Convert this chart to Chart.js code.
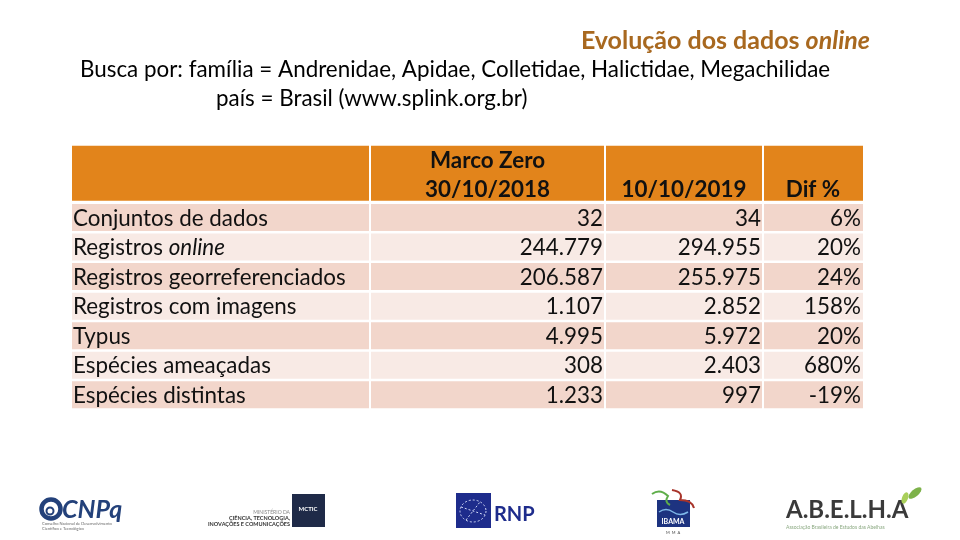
<!DOCTYPE html>
<html lang="pt-BR">
<head>
<meta charset="utf-8">
<title>Evolução dos dados online</title>
<script src="https://cdn.jsdelivr.net/npm/chart.js@4.4.1/dist/chart.umd.min.js"></script>
<style>
  html, body { margin: 0; padding: 0; background: #fff; }
  #wrap { width: 960px; height: 540px; }
</style>
</head>
<body>
<div id="wrap"><canvas id="tabela" width="960" height="540"></canvas></div>
<script>
// ---- DATA ----
const rowLabels = [
  'Conjuntos de dados',
  'Registros online',
  'Registros georreferenciados',
  'Registros com imagens',
  'Typus',
  'Espécies ameaçadas',
  'Espécies distintas'
];
const columnHeaders = [[], ['Marco Zero', '30/10/2018'], ['10/10/2019'], ['Dif %']];
const marcoZero   = [32, 244779, 206587, 1107, 4995, 308, 1233];
const outubro2019 = [34, 294955, 255975, 2852, 5972, 2403, 997];
const difPercent  = [6, 20, 24, 158, 20, 680, -19];
const italicWords = ['online'];

// ---- LAYOUT / STYLE ----
const FONT = "Lato, 'Open Sans', sans-serif";
const SIZE = 22.4;
const TITLE_SIZE = 25;
const COL_EDGES = [0, 298, 533, 691, 791];  // x units of the table
const HEADER_Y = 1;
const FIRST_ROW_Y = 2.5;
const COLORS = {
  header: '#E2841B',
  bandA: '#F2D6CB',
  bandB: '#F8EAE5',
  title: '#A8681F',
  text: '#111111'
};

const fmt = n => String(n).replace(/\B(?=(\d{3})+(?!\d))/g, '.');

function cellRange(c) {
  const lo = COL_EDGES[c] + (c > 0 ? 1 : 0);
  const hi = COL_EDGES[c + 1] - (c < COL_EDGES.length - 2 ? 1 : 0);
  return [lo, hi];
}

// one header cell + one column of body cells per table column
const datasets = [];
for (let c = 0; c < COL_EDGES.length - 1; c++) {
  datasets.push({
    label: 'header ' + c,
    data: [{ y: HEADER_Y, x: cellRange(c) }],
    backgroundColor: COLORS.header,
    grouped: false,
    categoryPercentage: 1,
    barPercentage: 1.86,
    borderWidth: 0
  });
  datasets.push({
    label: 'col ' + c,
    data: rowLabels.map((_, i) => ({ y: FIRST_ROW_Y + i, x: cellRange(c) })),
    backgroundColor: rowLabels.map((_, i) => i % 2 ? COLORS.bandB : COLORS.bandA),
    grouped: false,
    categoryPercentage: 1,
    barPercentage: 0.914,
    borderWidth: 0
  });
}

// draw a label, switching to italic for the words in italicWords
function drawRich(ctx, text, x, y, weight) {
  const words = text.split(' ');
  let cx = x;
  words.forEach((w, k) => {
    const it = italicWords.includes(w);
    ctx.font = `${it ? 'italic ' : ''}${weight} ${SIZE}px ${FONT}`;
    const piece = k < words.length - 1 ? w + ' ' : w;
    ctx.fillText(piece, cx, y);
    cx += ctx.measureText(piece).width;
  });
}

// ---- TABLE TEXT ----
const tableText = {
  id: 'tableText',
  afterDatasetsDraw(chart) {
    const { ctx, scales: { x, y } } = chart;
    ctx.save();
    ctx.fillStyle = COLORS.text;
    ctx.textBaseline = 'middle';

    // header, bottom aligned
    ctx.font = `bold ${SIZE}px ${FONT}`;
    ctx.textAlign = 'center';
    const bottomLine = y.getPixelForValue(HEADER_Y) + 16.5;
    columnHeaders.forEach((lines, c) => {
      const cx = (x.getPixelForValue(COL_EDGES[c]) + x.getPixelForValue(COL_EDGES[c + 1])) / 2;
      lines.forEach((t, k) => {
        ctx.fillText(t, cx, bottomLine - (lines.length - 1 - k) * 29);
      });
    });

    // body rows
    rowLabels.forEach((label, i) => {
      const py = y.getPixelForValue(FIRST_ROW_Y + i) + 1;
      ctx.textAlign = 'left';
      drawRich(ctx, label, x.getPixelForValue(COL_EDGES[0]) + 1, py, 'normal');
      ctx.font = `normal ${SIZE}px ${FONT}`;
      ctx.textAlign = 'right';
      const cells = [fmt(marcoZero[i]), fmt(outubro2019[i]), difPercent[i] + '%'];
      cells.forEach((t, k) => {
        ctx.fillText(t, x.getPixelForValue(COL_EDGES[k + 2]) - 2, py);
      });
    });
    ctx.restore();
  }
};

// ---- TITLE, SUBTITLE AND LOGOS ----
const slideDecor = {
  id: 'slideDecor',
  afterDraw(chart) {
    const ctx = chart.ctx;
    ctx.save();
    ctx.textBaseline = 'middle';

    // title, right aligned, "online" in italic
    ctx.fillStyle = COLORS.title;
    ctx.textAlign = 'left';
    ctx.font = `italic bold ${TITLE_SIZE}px ${FONT}`;
    const wOnline = ctx.measureText('online').width;
    ctx.font = `bold ${TITLE_SIZE}px ${FONT}`;
    const head = 'Evolução dos dados ';
    const wHead = ctx.measureText(head).width;
    const tx = 870 - wOnline - wHead;
    ctx.fillText(head, tx, 41);
    ctx.font = `italic bold ${TITLE_SIZE}px ${FONT}`;
    ctx.fillText('online', tx + wHead, 41);

    ctx.fillStyle = '#000';
    ctx.font = `normal ${SIZE}px ${FONT}`;
    ctx.fillText('Busca por: família = Andrenidae, Apidae, Colletidae, Halictidae, Megachilidae', 80, 70);
    ctx.fillText('país = Brasil (www.splink.org.br)', 216, 99);

    // CNPq
    ctx.strokeStyle = '#23417a';
    ctx.lineWidth = 4.5;
    ctx.beginPath(); ctx.arc(51, 509, 9.5, 0, Math.PI * 2); ctx.stroke();
    ctx.lineWidth = 2;
    ctx.beginPath(); ctx.arc(50, 511, 3.5, 0, Math.PI * 2); ctx.stroke();
    ctx.fillStyle = '#23417a';
    ctx.font = `italic bold 25px ${FONT}`;
    ctx.fillText('CNPq', 62, 510);
    ctx.fillStyle = '#666';
    ctx.font = `4px ${FONT}`;
    ctx.fillText('Conselho Nacional de Desenvolvimento', 42, 524);
    ctx.fillText('Científico e Tecnológico', 42, 529);

    // MCTIC
    ctx.fillStyle = '#1f2a48';
    ctx.fillRect(292, 494, 33, 33);
    ctx.fillStyle = '#fff';
    ctx.textAlign = 'center';
    ctx.font = `bold 6px ${FONT}`;
    ctx.fillText('MCTIC', 308, 509);
    ctx.textAlign = 'right';
    ctx.fillStyle = '#888';
    ctx.font = `5px ${FONT}`;
    ctx.fillText('MINISTÉRIO DA', 290, 512);
    ctx.fillStyle = '#333';
    ctx.font = `bold 5.5px ${FONT}`;
    ctx.fillText('CIÊNCIA, TECNOLOGIA,', 290, 518);
    ctx.fillText('INOVAÇÕES E COMUNICAÇÕES', 290, 524);

    // RNP
    ctx.fillStyle = '#1e2c8c';
    ctx.fillRect(456, 493, 35, 35);
    ctx.strokeStyle = '#cfd6f5';
    ctx.lineWidth = 1;
    ctx.setLineDash([2, 2]);
    ctx.beginPath(); ctx.ellipse(473, 511, 13, 11, 0, 0, Math.PI * 2); ctx.stroke();
    ctx.beginPath(); ctx.moveTo(461, 507); ctx.lineTo(485, 515); ctx.moveTo(466, 520); ctx.lineTo(480, 502); ctx.stroke();
    ctx.setLineDash([]);
    ctx.fillStyle = '#1e2c8c';
    ctx.textAlign = 'left';
    ctx.font = `bold 20px 'Liberation Sans Narrow', ${FONT}`;
    ctx.fillText('RNP', 494, 515);

    // IBAMA
    ctx.fillStyle = '#1d3380';
    ctx.fillRect(657, 500, 33, 27);
    ctx.strokeStyle = '#7fb8e8';
    ctx.lineWidth = 1.5;
    ctx.beginPath();
    ctx.moveTo(659, 512); ctx.quadraticCurveTo(666, 507, 673, 512); ctx.quadraticCurveTo(680, 517, 688, 512);
    ctx.stroke();
    ctx.strokeStyle = '#5fae4a';
    ctx.lineWidth = 2;
    ctx.beginPath(); ctx.moveTo(652, 494); ctx.quadraticCurveTo(660, 488, 668, 496); ctx.quadraticCurveTo(664, 502, 670, 505); ctx.stroke();
    ctx.strokeStyle = '#a8342a';
    ctx.beginPath(); ctx.moveTo(672, 490); ctx.quadraticCurveTo(684, 492, 680, 500); ctx.quadraticCurveTo(692, 500, 694, 508); ctx.stroke();
    ctx.fillStyle = '#fff';
    ctx.textAlign = 'center';
    ctx.font = `bold 7px ${FONT}`;
    ctx.fillText('IBAMA', 673, 522);
    ctx.fillStyle = '#444';
    ctx.font = `4px ${FONT}`;
    ctx.fillText('M  M  A', 673, 533);

    // A.B.E.L.H.A
    ctx.fillStyle = '#3a3a3a';
    ctx.textAlign = 'left';
    ctx.font = `bold 24px ${FONT}`;
    ctx.fillText('A.B.E.L.H.A', 786, 510);
    ctx.fillStyle = '#7db24a';
    ctx.beginPath(); ctx.ellipse(915, 493, 8, 3.5, -0.7, 0, Math.PI * 2); ctx.fill();
    ctx.fillStyle = '#a9cf5a';
    ctx.beginPath(); ctx.ellipse(905, 498, 6, 3, -1.2, 0, Math.PI * 2); ctx.fill();
    ctx.fillStyle = '#8aa880';
    ctx.font = `5px ${FONT}`;
    ctx.fillText('Associação Brasileira de Estudos das Abelhas', 786, 527);
    ctx.restore();
  }
};

new Chart(document.getElementById('tabela'), {
  type: 'bar',
  data: { datasets },
  options: {
    responsive: false,
    animation: false,
    indexAxis: 'y',
    layout: { padding: { left: 72, right: 97, top: 143.6, bottom: 130.4 } },
    scales: {
      x: { type: 'linear', min: 0, max: COL_EDGES[COL_EDGES.length - 1], display: false, offset: false },
      y: { type: 'linear', reverse: true, min: 0, max: 9, display: false, offset: false, ticks: { stepSize: 1 } }
    },
    plugins: {
      legend: { display: false },
      tooltip: { enabled: false }
    }
  },
  plugins: [tableText, slideDecor]
});
</script>
</body>
</html>
